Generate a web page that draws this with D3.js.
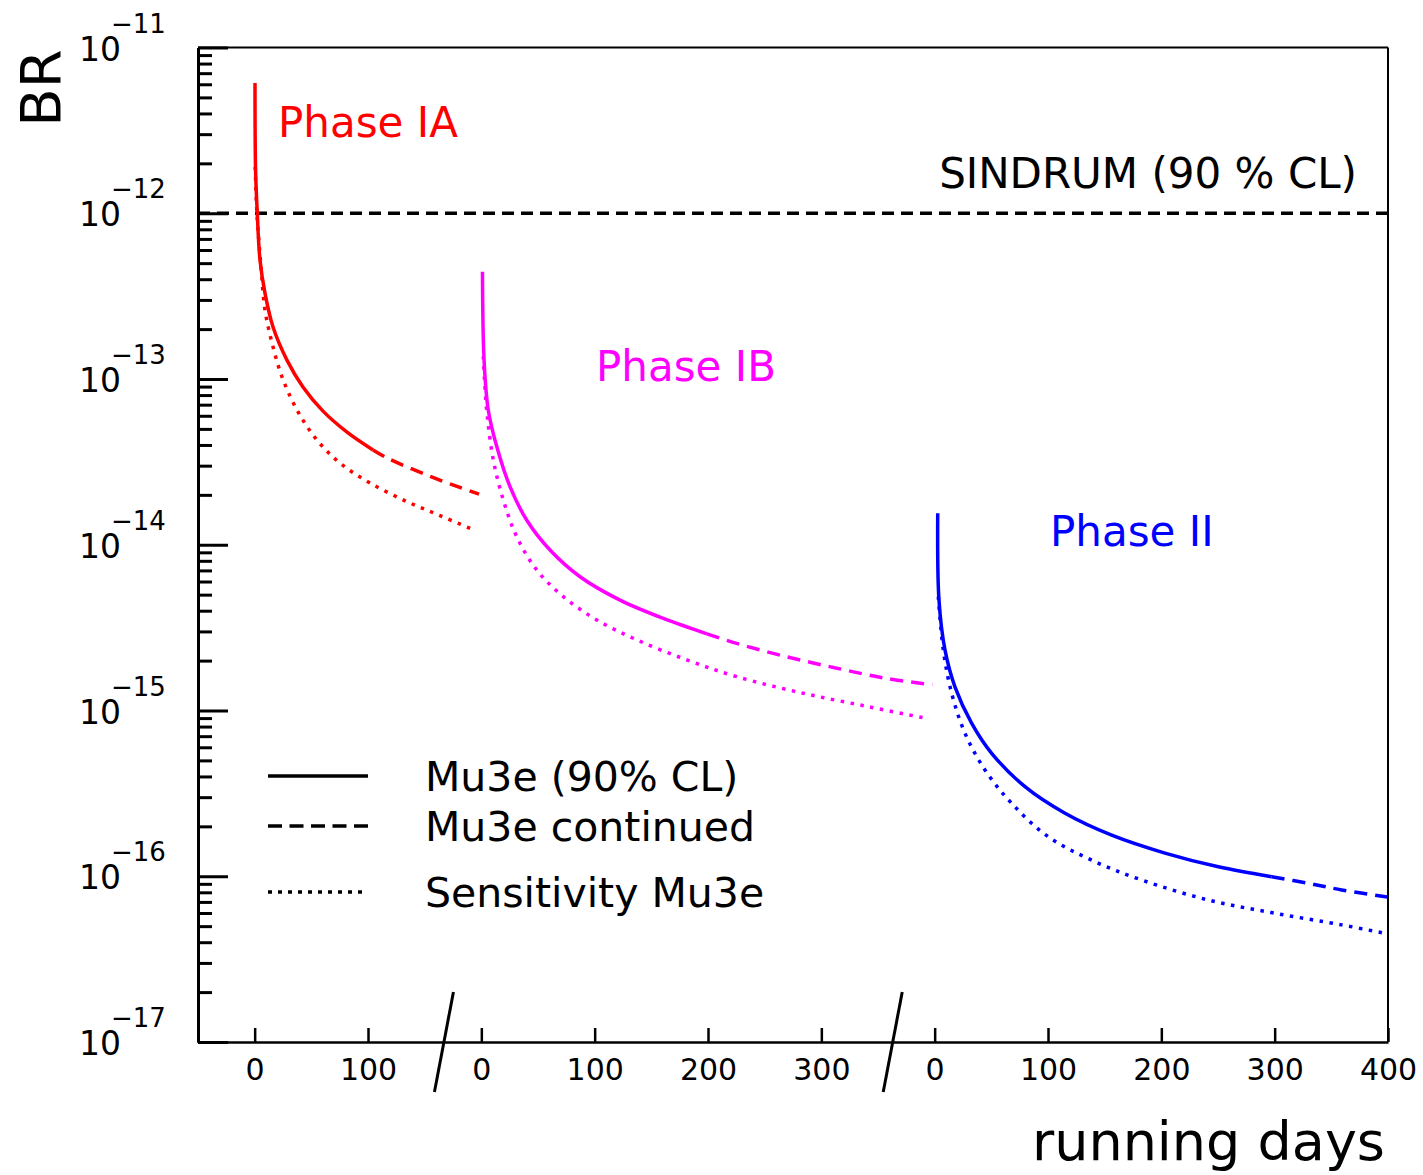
<!DOCTYPE html>
<html>
<head>
<meta charset="utf-8">
<script src="https://cdn.jsdelivr.net/npm/d3@7"></script>
<style>
  body { margin: 0; background: #fff; }
  svg { display: block; background: #fff; }
  text { font-family: "DejaVu Sans", sans-serif; fill: #000; }
</style>
</head>
<body>
<svg></svg>
<script>
// ---- data (days since start of each phase, BR) ----
var phaseNames = ["Phase IA", "Phase IB", "Phase II"];
var phaseOffsets = [0, 200, 600];   // where each phase's day 0 sits on the running axis

// Phase IA
var iaLimit = [[0.3, 6.1e-12], [0.8, 1.82e-12], [2.3, 1.0e-12], [4.7, 5.22e-13], [9.1, 3.30e-13],
  [16.2, 2.06e-13], [28.5, 1.30e-13], [42.6, 8.95e-14], [60.3, 6.40e-14], [81.5, 4.78e-14], [104.4, 3.73e-14]];
var iaContinued = [[104.4, 3.73e-14], [116.8, 3.34e-14], [152, 2.63e-14], [178.5, 2.25e-14], [198, 2.02e-14]];
var iaSensitivity = [[0.5, 1.90e-12], [2.0, 1.0e-12], [5.6, 4.74e-13], [9.1, 2.61e-13], [15.3, 1.65e-13],
  [24.1, 1.03e-13], [37.4, 6.50e-14], [55, 4.28e-14], [75.3, 3.11e-14], [101.7, 2.36e-14],
  [134.4, 1.82e-14], [163.5, 1.50e-14], [193, 1.23e-14]];

// Phase IB
var ibLimit = [[1.0, 4.43e-13], [2.4, 1.30e-13], [6.1, 6.50e-14], [13.6, 3.91e-14], [25.3, 2.24e-14],
  [40.0, 1.41e-14], [60.6, 9.29e-15], [87.1, 6.41e-15], [122.4, 4.63e-15], [160.6, 3.59e-15], [199, 2.90e-15]];
var ibContinued = [[199, 2.90e-15], [225.3, 2.54e-15], [269.4, 2.11e-15], [313.6, 1.80e-15], [357.7, 1.56e-15], [398, 1.43e-15]];
var ibSensitivity = [[1.7, 1.37e-13], [4.7, 6.50e-14], [10.6, 3.24e-14], [19.4, 1.86e-14], [31.2, 1.12e-14],
  [48.8, 7.05e-15], [72.4, 4.86e-15], [101.8, 3.52e-15], [137.1, 2.67e-15], [181.2, 2.02e-15],
  [225.3, 1.60e-15], [284.1, 1.27e-15], [342.9, 1.05e-15], [395, 8.9e-16]];

// Phase II
var iiLimit = [[2.7, 1.55e-14], [3.8, 4.65e-15], [9.1, 2.32e-15], [17.9, 1.39e-15], [32.7, 8.37e-16],
  [50.3, 5.52e-16], [79.7, 3.47e-16], [115.0, 2.40e-16], [156.2, 1.77e-16], [203.2, 1.38e-16],
  [250.3, 1.14e-16], [297.4, 9.94e-17]];
var iiContinued = [[297.4, 9.94e-17], [329.7, 9.07e-17], [359.1, 8.27e-17], [399.5, 7.5e-17]];
var iiSensitivity = [[3.2, 4.86e-15], [7.6, 2.32e-15], [15.0, 1.27e-15], [26.8, 7.28e-16], [44.4, 4.38e-16],
  [68.0, 2.75e-16], [100.3, 1.73e-16], [138.6, 1.25e-16], [182.7, 9.49e-17], [241.5, 7.19e-17],
  [300.3, 5.98e-17], [359.1, 5.09e-17], [399, 4.5e-17]];

var sindrumLimit = 1e-12;

// tick labels
var xTickValues = [0, 100, 200, 300, 400, 500, 600, 700, 800, 900, 1000];
var breakDays = [167, 563];
var yDecades = [1e-17, 1e-16, 1e-15, 1e-14, 1e-13, 1e-12, 1e-11];

var legendLabels = ["Mu3e (90% CL)", "Mu3e continued", "Sensitivity Mu3e"];

// ---- layout ----
var svgWidth = 1423;
var svgHeight = 1175;
var plotLeft = 198, plotRight = 1388, plotTop = 47.5, plotBottom = 1042;

var phaseColors = ["#ff0000", "#ff00ff", "#0000ff"];
var dashStyle = "13,8";
var dotStyle = "3.5,6.5";

var svg = d3.select("svg")
  .attr("width", svgWidth)
  .attr("height", svgHeight);

// scales
var xScale = d3.scaleLinear()
  .domain([-50, 1000])
  .range([plotLeft, plotRight]);

var yScale = d3.scaleLog()
  .domain([1e-17, 1e-11])
  .range([plotBottom, plotTop]);

// frame (top and right)
svg.append("line")
  .attr("x1", plotLeft).attr("x2", plotRight)
  .attr("y1", plotTop).attr("y2", plotTop)
  .attr("stroke", "#000").attr("stroke-width", 2);
svg.append("line")
  .attr("x1", plotRight).attr("x2", plotRight)
  .attr("y1", plotTop).attr("y2", plotBottom)
  .attr("stroke", "#000").attr("stroke-width", 2);

// y axis: majors, minors, pointing into the plot
var yMinor = [];
yDecades.slice(0, -1).forEach(function(d) {
  for (var m = 2; m <= 9; m++) yMinor.push(d * m);
});

var leftMajor = d3.axisLeft(yScale).tickValues(yDecades).tickSize(-30).tickSizeOuter(0).tickFormat("");
var leftMinor = d3.axisLeft(yScale).tickValues(yMinor).tickSize(-14).tickSizeOuter(0).tickFormat("");

var gyMinor = svg.append("g").attr("transform", `translate(${plotLeft},0)`).call(leftMinor);
var gyMajor = svg.append("g").attr("transform", `translate(${plotLeft},0)`).call(leftMajor);
gyMinor.selectAll(".tick line").attr("stroke-width", 3);
gyMajor.selectAll(".tick line").attr("stroke-width", 3);
gyMajor.select(".domain").attr("stroke-width", 3);
gyMinor.select(".domain").attr("stroke-width", 3);

// y tick labels as 10^-n
var yLabels = svg.append("g");
yDecades.forEach(function(d) {
  var yy = yScale(d);
  var expo = Math.round(Math.log10(d));
  yLabels.append("text")
    .attr("x", 121).attr("y", yy + 13)
    .attr("text-anchor", "end")
    .style("font-size", "33px")
    .text("10");
  yLabels.append("text")
    .attr("x", 111).attr("y", yy - 15)
    .style("font-size", "26px")
    .text("\u2212" + Math.abs(expo));
});

// x axis with three segments
var xAxis = d3.axisBottom(xScale)
  .tickValues(xTickValues)
  .tickFormat(function(d) {
    if (d < phaseOffsets[1]) return d;
    if (d < phaseOffsets[2]) return d - phaseOffsets[1];
    return d - phaseOffsets[2];
  })
  .tickSizeInner(-14)
  .tickSizeOuter(0)
  .tickPadding(17);

var gx = svg.append("g")
  .attr("transform", `translate(0,${plotBottom})`)
  .call(xAxis);
gx.attr("font-family", null).attr("font-size", null);
gx.select(".domain").attr("stroke-width", 2.5);
gx.selectAll(".tick line").attr("stroke-width", 2.5);
gx.selectAll(".tick text").style("font-size", "30px").attr("fill", "#000");

// axis break marks
svg.selectAll(".break")
  .data(breakDays)
  .enter()
  .append("line")
  .attr("class", "break")
  .attr("x1", d => xScale(d) + 9.5)
  .attr("y1", plotBottom - 50)
  .attr("x2", d => xScale(d) - 9.5)
  .attr("y2", plotBottom + 50)
  .attr("stroke", "#000")
  .attr("stroke-width", 3);

// SINDRUM limit
svg.append("line")
  .attr("x1", plotLeft).attr("x2", plotRight)
  .attr("y1", yScale(sindrumLimit)).attr("y2", yScale(sindrumLimit))
  .attr("stroke", "#000")
  .attr("stroke-width", 3.5)
  .attr("stroke-dasharray", "12,7");

svg.append("text")
  .attr("x", 1357).attr("y", 188)
  .attr("text-anchor", "end")
  .style("font-size", "42px")
  .text("SINDRUM (90 % CL)");

// curves
var phases = [
  { limit: iaLimit, cont: iaContinued, sens: iaSensitivity },
  { limit: ibLimit, cont: ibContinued, sens: ibSensitivity },
  { limit: iiLimit, cont: iiContinued, sens: iiSensitivity }
];

phases.forEach(function(p, i) {
  var off = phaseOffsets[i];
  var line = d3.line()
    .x(d => xScale(d[0] + off))
    .y(d => yScale(d[1]))
    .curve(d3.curveCatmullRom.alpha(0.5));

  svg.append("path")
    .attr("d", line(p.sens))
    .attr("fill", "none")
    .attr("stroke", phaseColors[i])
    .attr("stroke-width", 3.5)
    .attr("stroke-dasharray", dotStyle);

  svg.append("path")
    .attr("d", line(p.cont))
    .attr("fill", "none")
    .attr("stroke", phaseColors[i])
    .attr("stroke-width", 3.5)
    .attr("stroke-dasharray", dashStyle);

  svg.append("path")
    .attr("d", line(p.limit))
    .attr("fill", "none")
    .attr("stroke", phaseColors[i])
    .attr("stroke-width", 3.5);
});

// phase labels
var phaseLabelPos = [[278, 137], [596, 381], [1050, 546]];
phaseNames.forEach(function(name, i) {
  svg.append("text")
    .attr("x", phaseLabelPos[i][0])
    .attr("y", phaseLabelPos[i][1])
    .style("font-size", "42px")
    .style("fill", phaseColors[i])
    .text(name);
});

// legend
var legendY = [776, 826, 892];
var legendDash = [null, "14,7.5", "4,6"];
var legend = svg.append("g");
legendLabels.forEach(function(label, i) {
  legend.append("line")
    .attr("x1", 268).attr("x2", 368)
    .attr("y1", legendY[i]).attr("y2", legendY[i])
    .attr("stroke", "#000")
    .attr("stroke-width", 3.5)
    .attr("stroke-dasharray", legendDash[i]);
  legend.append("text")
    .attr("x", 425)
    .attr("y", legendY[i] + 15)
    .style("font-size", "41px")
    .text(label);
});

// axis titles
svg.append("text")
  .attr("transform", "translate(60,88) rotate(-90)")
  .attr("text-anchor", "middle")
  .style("font-size", "56px")
  .text("BR");

svg.append("text")
  .attr("x", 1385).attr("y", 1160)
  .attr("text-anchor", "end")
  .style("font-size", "54px")
  .text("running days");
</script>
</body>
</html>
